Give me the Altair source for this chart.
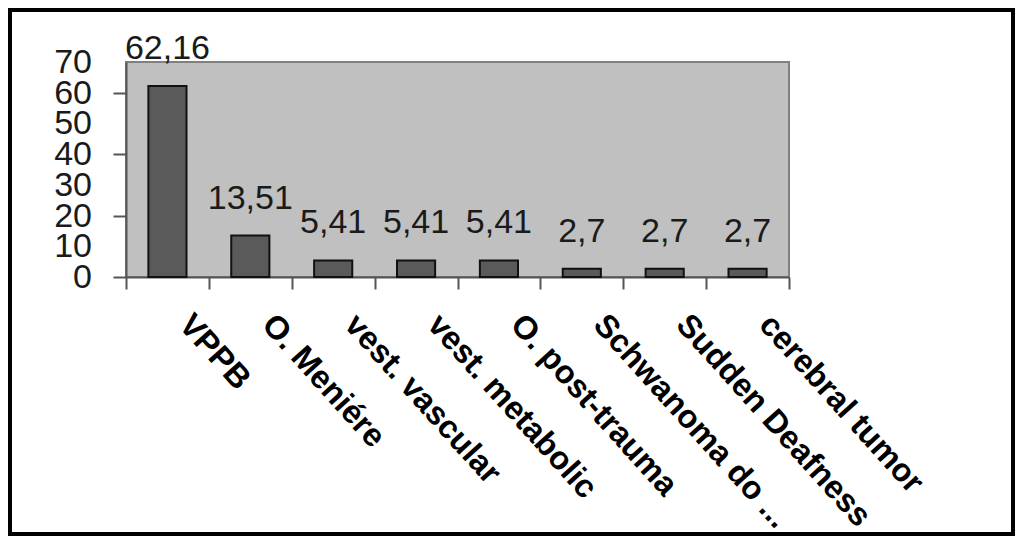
import altair as alt
import pandas as pd

categories = ["VPPB", "O. Meniére", "vest. vascular", "vest. metabolic",
              "O. post-trauma", "Schwanoma do ...", "Sudden Deafness", "cerebral tumor"]
values = [62.16, 13.51, 5.41, 5.41, 5.41, 2.7, 2.7, 2.7]
labels = ["62,16", "13,51", "5,41", "5,41", "5,41", "2,7", "2,7", "2,7"]
y_ticks = [0, 10, 20, 30, 40, 50, 60, 70]

df = pd.DataFrame({"cat": categories, "val": values, "lab": labels})
ydf = pd.DataFrame({"t": y_ticks, "tl": [str(v) for v in y_ticks]})

FONT = "Liberation Sans"

x = alt.X("cat:N", sort=categories, title=None,
          scale=alt.Scale(paddingInner=0, paddingOuter=0),
          axis=alt.Axis(labelAngle=48, labelAlign="left", labelBaseline="top",
                        labelFont=FONT, labelFontSize=32.5, labelFontWeight="bold",
                        labelColor="#000000", labelOffset=29, labelPadding=19,
                        tickBand="extent", tickSize=12, tickColor="#555555", tickWidth=2,
                        domainColor="#555555", domainWidth=2, labelLimit=0,
                        labelOverlap=False))
y = alt.Y("val:Q", title=None,
          scale=alt.Scale(domain=[0, 70], nice=False),
          axis=alt.Axis(values=y_ticks, grid=False, labels=False,
                        tickSize=13, tickColor="#555555", tickWidth=2,
                        domainColor="#555555", domainWidth=2))

bars = alt.Chart(df).mark_bar(color="#5a5a5a", stroke="#111111", strokeWidth=2,
                              width=alt.RelativeBandSize(0.46)).encode(x=x, y=y)

text = alt.Chart(df).mark_text(font=FONT, fontSize=34, color="#1a1a1a",
                               baseline="alphabetic", dy=-27).encode(
    x=alt.X("cat:N", sort=categories), y="val:Q", text="lab:N")

ylabels = alt.Chart(ydf).mark_text(font=FONT, fontSize=34, color="#1a1a1a",
                                   align="right", baseline="middle", dy=1).encode(
    x=alt.value(-34), y=alt.Y("t:Q"), text="tl:N")

frame = alt.Chart(alt.Data(values=[{"a": 1}])).mark_rect(
    fill=None, stroke="#000000", strokeWidth=4).encode(
    x=alt.value(-116), x2=alt.value(887), y=alt.value(-52), y2=alt.value(472))

chart = alt.layer(bars, text, ylabels, frame).properties(
    width=663, height=215, padding=0, background="#ffffff"
).configure_view(fill="#c0c0c0", stroke="#808080", strokeWidth=2)

chart.save("out.html", embed_options={"renderer": "svg", "actions": False})
